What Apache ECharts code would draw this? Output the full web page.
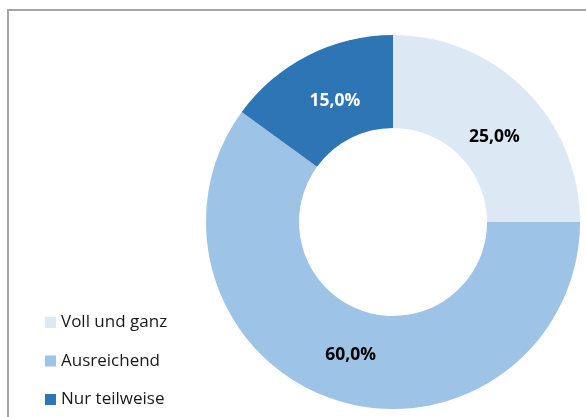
<!DOCTYPE html>
<html>
<head>
<meta charset="utf-8">
<script src="https://cdn.jsdelivr.net/npm/echarts@6/dist/echarts.min.js"></script>
<style>
  html, body { margin: 0; padding: 0; background: #fff; }
  #chart { width: 586px; height: 417px; }
</style>
</head>
<body>
<div id="chart"></div>
<script>
const categories = ['Voll und ganz', 'Ausreichend', 'Nur teilweise']
const shares = [25.0, 60.0, 15.0]
const colors = ['#DDE8F5', '#9DC3E6', '#2E75B6']
const labelColors = ['#000000', '#000000', '#ffffff']
// Excel places the percentages a little off the ring's mid radius
const labelNudge = [[0, 16], [2, -3], [7, 7]]

const chart = echarts.init(document.getElementById('chart'))

chart.setOption({
  backgroundColor: '#ffffff',
  color: colors,
  animation: false,
  graphic: [
    {
      type: 'rect',
      shape: { x: 8, y: 10, width: 620, height: 440 },
      style: { fill: 'none', stroke: '#a6a6a6', lineWidth: 2 },
      silent: true
    }
  ],
  legend: {
    orient: 'vertical',
    left: 45,
    top: 314,
    padding: 0,
    itemWidth: 11,
    itemHeight: 11,
    itemGap: 21.5,
    icon: 'rect',
    textStyle: {
      fontFamily: 'Open Sans',
      fontSize: 17,
      lineHeight: 17,
      color: '#1a1a1a',
      padding: [0, 0, 0, 0]
    },
    data: categories
  },
  series: [
    {
      type: 'pie',
      center: [393, 222],
      radius: [94, 187],
      startAngle: 90,
      clockwise: true,
      label: {
        show: true,
        position: 'inside',
        fontFamily: 'Open Sans',
        fontWeight: 'bold',
        fontSize: 17.5,
        formatter: p => p.value.toFixed(1).replace('.', ',') + '%'
      },
      labelLine: { show: false },
      emphasis: { disabled: true },
      data: categories.map((name, i) => ({
        name: name,
        value: shares[i],
        label: { color: labelColors[i], offset: labelNudge[i] }
      }))
    }
  ]
})
</script>
</body>
</html>
